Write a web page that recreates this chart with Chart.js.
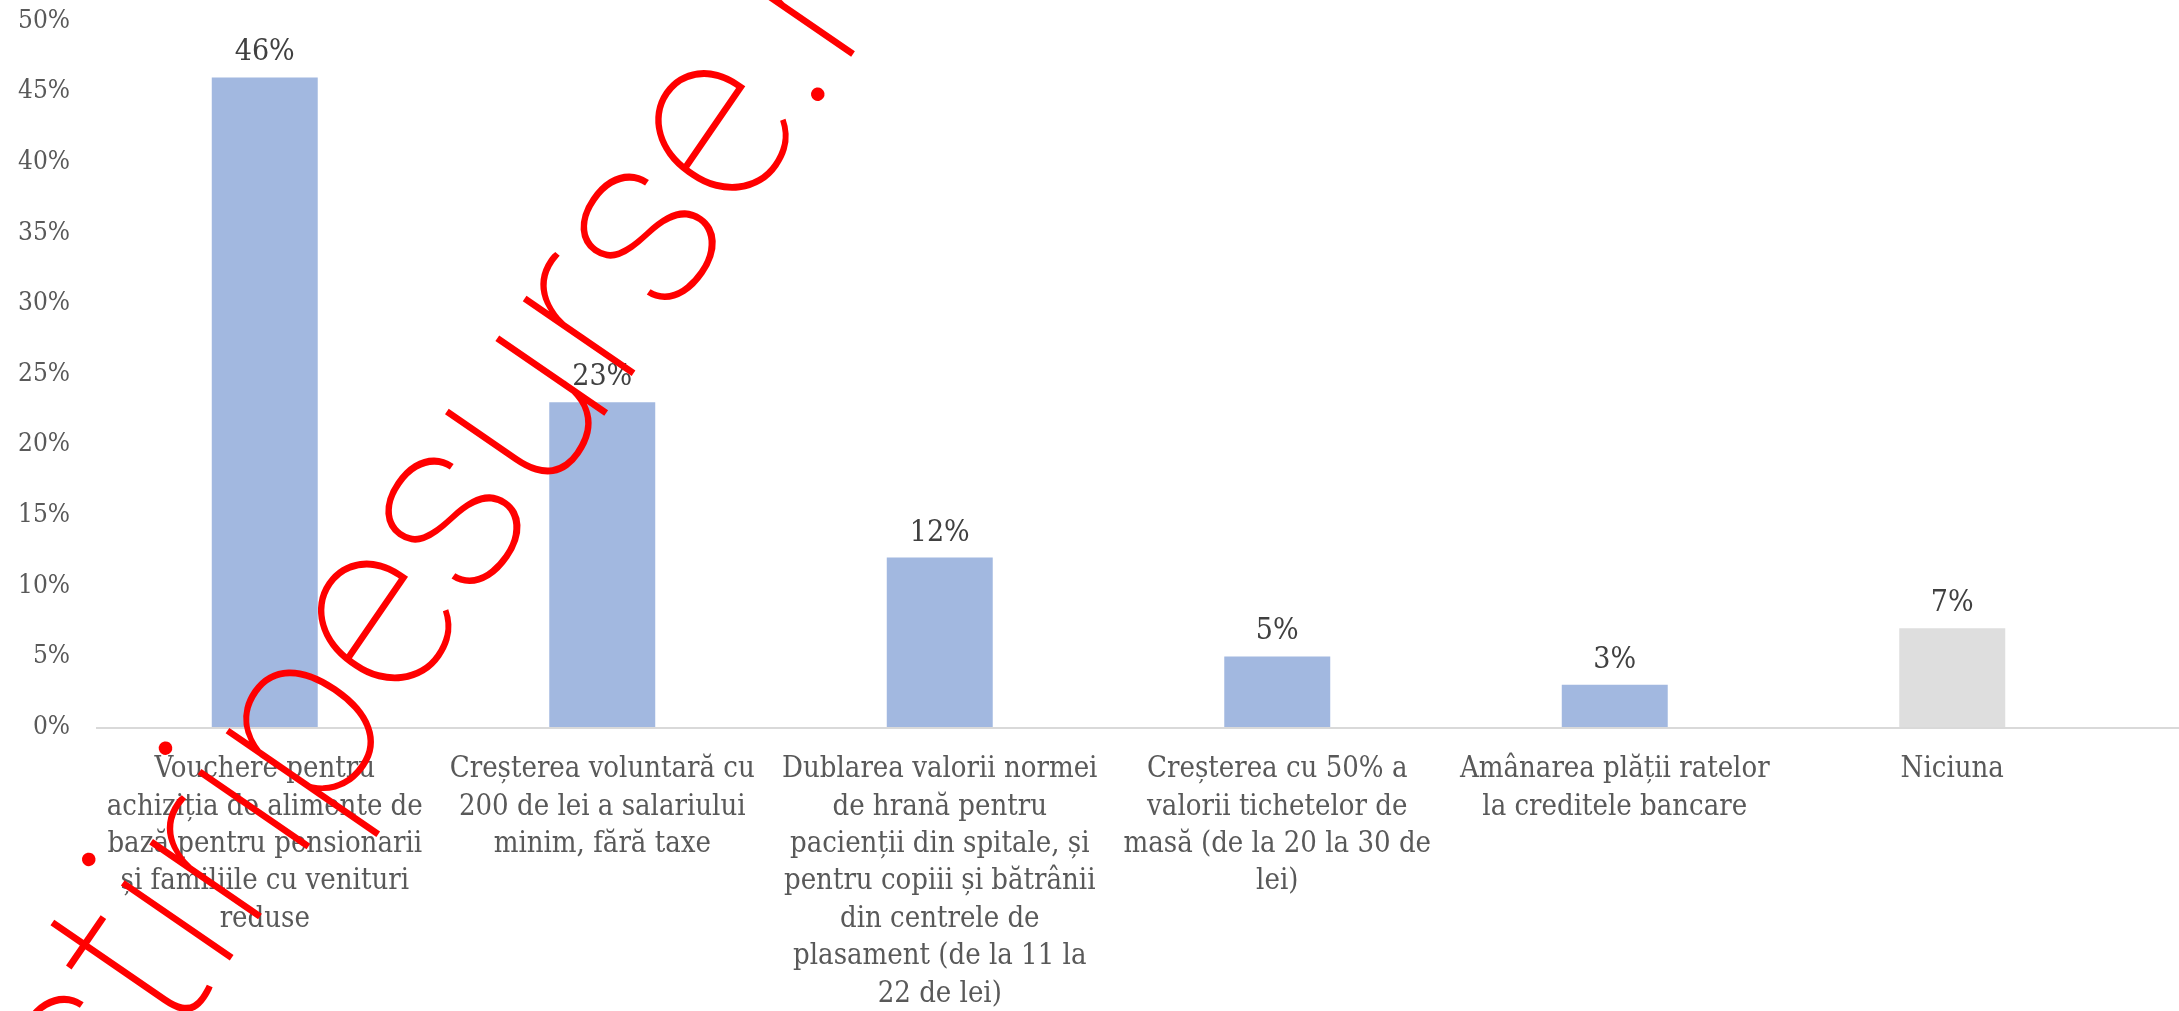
<!DOCTYPE html>
<html lang="ro">
<head>
<meta charset="utf-8">
<title>Măsuri preferate</title>
<script src="https://cdn.jsdelivr.net/npm/chart.js@4.4.1/dist/chart.umd.min.js"></script>
<style>
  html, body { margin: 0; padding: 0; background: #fff; overflow: hidden; }
  #wrap { width: 2179px; height: 1011px; position: relative; }
</style>
</head>
<body>
<div id="wrap"><canvas id="barChart"></canvas></div>
<script>
// Category labels (already wrapped the way they appear)
const categories = [
  ["Vouchere pentru", "achiziția de alimente de", "bază pentru pensionarii", "și familiile cu venituri", "reduse"],
  ["Creșterea voluntară cu", "200 de lei a salariului", "minim, fără taxe"],
  ["Dublarea valorii normei", "de hrană pentru", "pacienții din spitale, și", "pentru copiii și bătrânii", "din centrele de", "plasament (de la 11 la", "22 de lei)"],
  ["Creșterea cu 50% a", "valorii tichetelor de", "masă (de la 20 la 30 de", "lei)"],
  ["Amânarea plății ratelor", "la creditele bancare"],
  ["Niciuna"]
];

// Share of respondents (%)
const values = [46, 23, 12, 5, 3, 7];

// Y axis ticks
const yTicks = [0, 5, 10, 15, 20, 25, 30, 35, 40, 45, 50];

const watermark = "știripesurse.ro";

const BLUE = "#A2B8E0";
const GREY = "#DEDEDE";
const FONT = "'DejaVu Serif Condensed', 'DejaVu Serif', serif";

document.addEventListener("DOMContentLoaded", function () {
  const ctx = document.getElementById("barChart").getContext("2d");

  // value labels above the bars
  const valueLabels = {
    id: "valueLabels",
    afterDatasetsDraw(chart) {
      const c = chart.ctx;
      const meta = chart.getDatasetMeta(0);
      c.save();
      c.font = "30px " + FONT;
      c.fillStyle = "#404040";
      c.textAlign = "center";
      c.textBaseline = "alphabetic";
      meta.data.forEach((bar, i) => {
        c.fillText(values[i] + "%", bar.x, bar.y - 17);
      });
      c.restore();
    }
  };

  // baseline runs past the last category to the edge
  const baseLine = {
    id: "baseLine",
    beforeDatasetsDraw(chart) {
      const c = chart.ctx;
      const y = chart.scales.y.getPixelForValue(0);
      c.save();
      c.strokeStyle = "#D9D9D9";
      c.lineWidth = 2;
      c.beginPath();
      c.moveTo(chart.chartArea.left, y + 1);
      c.lineTo(chart.width, y + 1);
      c.stroke();
      c.restore();
    }
  };

  // red diagonal watermark on top of everything
  const stamp = {
    id: "stamp",
    afterDraw(chart) {
      const c = chart.ctx;
      c.save();
      c.font = "100 250px Roboto";
      const cut = watermark.indexOf(".");
      const head = c.measureText(watermark.slice(0, cut)).width + c.measureText(".").width / 2;
      const ang = -55.5 * Math.PI / 180;
      const dotX = 824, dotY = 96;
      c.translate(dotX - head * Math.cos(ang), dotY - head * Math.sin(ang));
      c.rotate(ang);
      c.fillStyle = "#FF0000";
      c.textBaseline = "alphabetic";
      c.fillText(watermark, 0, 0);
      c.restore();
    }
  };

  new Chart(ctx, {
    type: "bar",
    data: {
      labels: categories,
      datasets: [{
        data: values,
        backgroundColor: (c) => c.dataIndex === values.length - 1 ? GREY : BLUE,
        borderWidth: 0,
        barPercentage: 0.314,
        categoryPercentage: 1
      }]
    },
    options: {
      responsive: true,
      maintainAspectRatio: false,
      animation: false,
      layout: { padding: { top: 21, right: 58, left: 0, bottom: 0 } },
      plugins: {
        legend: { display: false },
        tooltip: { enabled: false }
      },
      scales: {
        x: {
          grid: { display: false, drawTicks: false },
          border: { display: false },
          ticks: {
            color: "#595959",
            font: { family: FONT, size: 29, lineHeight: 1.29 },
            padding: 24,
            maxRotation: 0,
            autoSkip: false
          },
          afterFit: (s) => { s.height = 284; }
        },
        y: {
          min: 0,
          max: 50,
          grid: { display: false, drawTicks: false },
          border: { display: false },
          afterBuildTicks: (s) => { s.ticks = yTicks.map(v => ({ value: v })); },
          ticks: {
            color: "#595959",
            font: { family: FONT, size: 26 },
            padding: 26,
            callback: (v) => v + "%"
          },
          afterFit: (s) => { s.width = 96; s.paddingTop = 0; s.paddingBottom = 0; }
        }
      }
    },
    plugins: [baseLine, valueLabels, stamp]
  });
});
</script>
</body>
</html>
